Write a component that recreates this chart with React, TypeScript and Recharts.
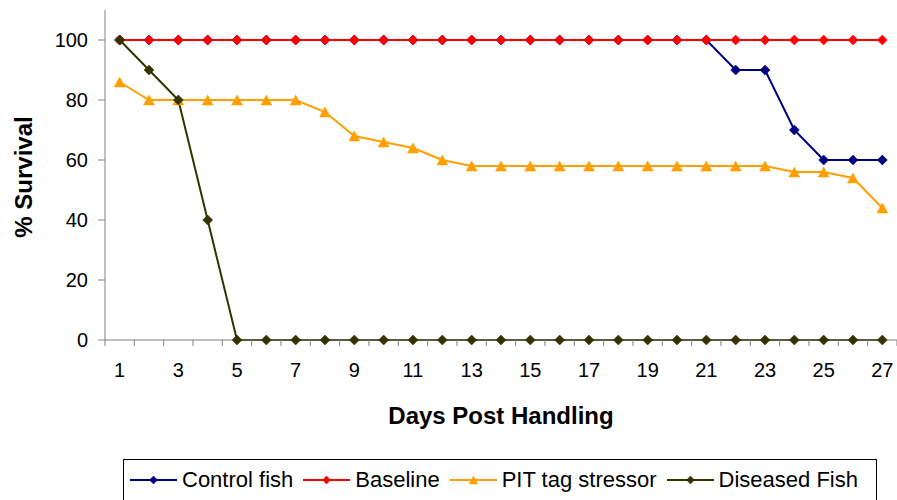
import React from 'react';
import { LineChart, Line, XAxis, YAxis } from 'recharts';

const FONT = '"Liberation Sans", Arial, sans-serif';

const days = [1, 2, 3, 4, 5, 6, 7, 8, 9, 10, 11, 12, 13, 14, 15, 16, 17, 18, 19, 20, 21, 22, 23, 24, 25, 26, 27];
const controlFish = [100, 100, 100, 100, 100, 100, 100, 100, 100, 100, 100, 100, 100, 100, 100, 100, 100, 100, 100, 100, 100, 90, 90, 70, 60, 60, 60];
const baseline = [100, 100, 100, 100, 100, 100, 100, 100, 100, 100, 100, 100, 100, 100, 100, 100, 100, 100, 100, 100, 100, 100, 100, 100, 100, 100, 100];
const pitTag = [86, 80, 80, 80, 80, 80, 80, 76, 68, 66, 64, 60, 58, 58, 58, 58, 58, 58, 58, 58, 58, 58, 58, 56, 56, 54, 44];
const diseased = [100, 90, 80, 40, 0, 0, 0, 0, 0, 0, 0, 0, 0, 0, 0, 0, 0, 0, 0, 0, 0, 0, 0, 0, 0, 0, 0];
const yTicks = [0, 20, 40, 60, 80, 100];

const series = [
    { key: 'control', name: 'Control fish', color: '#000080', shape: 'diamond' },
    { key: 'baseline', name: 'Baseline', color: '#FF0000', shape: 'diamond' },
    { key: 'pit', name: 'PIT tag stressor', color: '#FFA000', shape: 'triangle' },
    { key: 'diseased', name: 'Diseased Fish', color: '#333300', shape: 'diamond' },
];

const data = days.map((d, i) => ({
    day: d,
    control: controlFish[i],
    baseline: baseline[i],
    pit: pitTag[i],
    diseased: diseased[i],
}));

const W = 897;
const H = 500;
const PLOT_LEFT = 105;
const STEP = (W - PLOT_LEFT) / days.length;

const Marker = ({ cx, cy, color, shape, r = 5 }: any) => {
    if (cx == null || cy == null) return null;
    if (shape === 'triangle') {
        const pts = `${cx},${cy - r} ${cx + r + 0.5},${cy + r} ${cx - r - 0.5},${cy + r}`;
        return <polygon points={pts} fill={color} stroke={color} strokeWidth={0.5} />;
    }
    const pts = `${cx},${cy - r} ${cx + r},${cy} ${cx},${cy + r} ${cx - r},${cy}`;
    return <polygon points={pts} fill={color} stroke={color} strokeWidth={0.5} />;
};

const DayTick = (props: any) => {
    const { x, y, payload, index } = props;
    const half = STEP / 2;
    return (
        <g>
            <line x1={x - half} x2={x - half} y1={y} y2={y + 6} stroke="#808080" />
            {index === days.length - 1 && (
                <line x1={x + half} x2={x + half} y1={y} y2={y + 6} stroke="#808080" />
            )}
            {payload.value % 2 === 1 && (
                <text x={x} y={y + 37} textAnchor="middle" fill="#000" fontSize={20} fontFamily={FONT}>
                    {payload.value}
                </text>
            )}
        </g>
    );
};

const XTitle = (props: any) => {
    const { x, y, width } = props.viewBox;
    return (
        <text x={x + width / 2} y={y + 84} textAnchor="middle" fontSize={24} fontWeight="bold" fontFamily={FONT} fill="#000">
            Days Post Handling
        </text>
    );
};

const YTitle = (props: any) => {
    const { y, height } = props.viewBox;
    const cy = y + height / 2 + 2;
    return (
        <text x={32} y={cy} transform={`rotate(-90, 32, ${cy})`} textAnchor="middle" fontSize={24} fontWeight="bold" fontFamily={FONT} fill="#000">
            % Survival
        </text>
    );
};

const LegendBox = () => (
    <div
        style={{
            position: 'absolute',
            left: 123,
            top: 459,
            width: 754,
            height: 42,
            boxSizing: 'border-box',
            border: '1px solid #000',
            display: 'flex',
            alignItems: 'center',
            paddingLeft: 6,
            fontFamily: FONT,
            fontSize: 22,
            color: '#000',
            whiteSpace: 'nowrap',
        }}>
        {series.map(s => (
            <div key={s.key} style={{ display: 'flex', alignItems: 'center', marginRight: 10 }}>
                <svg width={47} height={20} style={{ display: 'block' }}>
                    <line x1={0} x2={47} y1={10} y2={10} stroke={s.color} strokeWidth={2} />
                    <Marker cx={23.5} cy={10} color={s.color} shape={s.shape} r={4} />
                </svg>
                <span style={{ marginLeft: 5 }}>{s.name}</span>
            </div>
        ))}
    </div>
);

const App: React.FC = () => {
    return (
        <div style={{ position: 'absolute', left: 0, top: 0, width: W, height: H, background: '#fff' }}>
            <LineChart width={W} height={H} data={data} margin={{ top: 10, right: 0, bottom: 70, left: 0 }}>
                <XAxis
                    dataKey="day"
                    type="number"
                    domain={[0.5, 27.5]}
                    ticks={days}
                    interval={0}
                    height={90}
                    tickSize={0}
                    tickMargin={0}
                    tickLine={false}
                    axisLine={{ stroke: '#808080' }}
                    tick={<DayTick />}
                    label={<XTitle />}
                />
                <YAxis
                    type="number"
                    domain={[0, 110]}
                    ticks={yTicks}
                    interval={0}
                    width={105}
                    tickSize={7}
                    tickMargin={10}
                    axisLine={{ stroke: '#808080' }}
                    tickLine={{ stroke: '#808080' }}
                    tick={{ fill: '#000', fontSize: 20, fontFamily: FONT }}
                    label={<YTitle />}
                />
                {series.map(s => (
                    <Line
                        key={s.key}
                        dataKey={s.key}
                        name={s.name}
                        type="linear"
                        stroke={s.color}
                        strokeWidth={2}
                        isAnimationActive={false}
                        dot={(p: any) => (
                            <Marker key={`${s.key}-${p.index}`} cx={p.cx} cy={p.cy} color={s.color} shape={s.shape} />
                        )}
                        activeDot={false}
                    />
                ))}
            </LineChart>
            <LegendBox />
        </div>
    );
};

export default App;
